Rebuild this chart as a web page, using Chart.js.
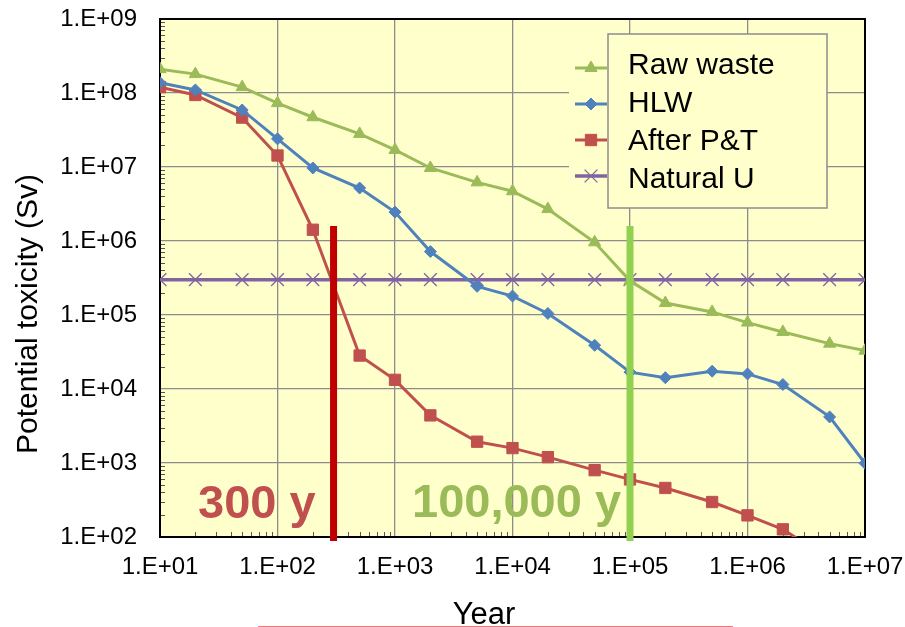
<!DOCTYPE html>
<html>
<head>
<meta charset="utf-8">
<title>Potential toxicity</title>
<script src="https://cdn.jsdelivr.net/npm/chart.js@4.4.0/dist/chart.umd.min.js"></script>
<style>
  html, body { margin: 0; padding: 0; background: #fff; }
  #wrap { width: 905px; height: 627px; }
</style>
</head>
<body>
<div id="wrap"><canvas id="toxChart" width="905" height="627"></canvas></div>
<script>
// time after discharge (years)
const years = [10, 20, 50, 100, 200, 500, 1e3, 2e3, 5e3, 1e4, 2e4, 5e4, 1e5, 2e5, 5e5, 1e6, 2e6, 5e6, 1e7];

// potential toxicity (Sv)
const rawWaste = [2.1e8, 1.8e8, 1.2e8, 7.3e7, 4.7e7, 2.8e7, 1.7e7, 9.7e6, 6.2e6, 4.7e6, 2.7e6, 9.6e5, 2.9e5, 1.45e5, 1.1e5, 7.9e4, 5.9e4, 4.1e4, 3.3e4];
const hlw = [1.38e8, 1.1e8, 5.9e7, 2.4e7, 9.7e6, 5.2e6, 2.46e6, 7.2e5, 2.44e5, 1.8e5, 1.05e5, 3.9e4, 1.69e4, 1.42e4, 1.74e4, 1.6e4, 1.15e4, 4.2e3, 9.9e2];
const afterPT = [1.2e8, 9.4e7, 4.65e7, 1.43e7, 1.42e6, 2.83e4, 1.33e4, 4.4e3, 1.94e3, 1.59e3, 1.2e3, 8.0e2, 6.0e2, 4.6e2, 2.97e2, 1.96e2, 1.27e2, 50, null];
const naturalU = [3e5, 3e5, 3e5, 3e5, 3e5, 3e5, 3e5, 3e5, 3e5, 3e5, 3e5, 3e5, 3e5, 3e5, 3e5, 3e5, 3e5, 3e5, 3e5];

// years needed to fall back to natural uranium level
const cutoffYears = [300, 1e5];
const cutoffLabels = ['300 y', '100,000 y'];
const cutoffSpan = [1.6e6, 88]; // top / bottom of the marker bars

const xTickValues = [1e1, 1e2, 1e3, 1e4, 1e5, 1e6, 1e7];
const xTickLabels = ['1.E+01', '1.E+02', '1.E+03', '1.E+04', '1.E+05', '1.E+06', '1.E+07'];
const yTickValues = [1e2, 1e3, 1e4, 1e5, 1e6, 1e7, 1e8, 1e9];
const yTickLabels = ['1.E+02', '1.E+03', '1.E+04', '1.E+05', '1.E+06', '1.E+07', '1.E+08', '1.E+09'];

const GREEN = '#9BBB59', BLUE = '#4F81BD', RED = '#C0504D', PURPLE = '#8064A2';

Chart.defaults.font.family = "'Liberation Sans', Arial, sans-serif";
Chart.defaults.color = '#000';

function pts(vals) {
  return years.map((x, i) => ({ x: x, y: vals[i] }));
}

function series(label, vals, color, style, radius, width) {
  return {
    label: label,
    data: pts(vals),
    borderColor: color,
    backgroundColor: color,
    borderWidth: width,
    pointStyle: style,
    pointRadius: radius,
    pointBackgroundColor: color,
    pointBorderColor: color,
    pointBorderWidth: style === 'crossRot' ? 1.3 : 1,
    tension: 0,
    spanGaps: false
  };
}

function cutoffBar(yr, color) {
  return {
    label: '_bar',
    data: [{ x: yr, y: cutoffSpan[0] }, { x: yr, y: cutoffSpan[1] }],
    borderColor: color,
    borderWidth: 7,
    pointRadius: 0,
    clip: false
  };
}

// plot background, frame, minor ticks, legend, titles, notes
const decor = {
  id: 'decor',
  beforeDraw(chart) {
    const a = chart.chartArea, ctx = chart.ctx;
    ctx.save();
    ctx.fillStyle = '#FFFFCC';
    ctx.fillRect(a.left, a.top, a.right - a.left, a.bottom - a.top);
    ctx.restore();
  },
  beforeDatasetsDraw(chart) {
    const a = chart.chartArea, ctx = chart.ctx;
    const xs = chart.scales.x, ys = chart.scales.y;
    ctx.save();
    ctx.strokeStyle = '#555';
    ctx.lineWidth = 1;
    ctx.beginPath();
    for (let e = 2; e < 9; e++) {
      for (let k = 2; k <= 9; k++) {
        const py = Math.round(ys.getPixelForValue(k * Math.pow(10, e))) + 0.5;
        ctx.moveTo(a.left, py); ctx.lineTo(a.left + 5, py);
      }
    }
    for (let e = 1; e < 7; e++) {
      for (let k = 2; k <= 9; k++) {
        const px = Math.round(xs.getPixelForValue(k * Math.pow(10, e))) + 0.5;
        ctx.moveTo(px, a.bottom); ctx.lineTo(px, a.bottom - 5);
      }
    }
    ctx.stroke();
    ctx.strokeStyle = '#000';
    ctx.lineWidth = 2;
    ctx.strokeRect(a.left, a.top, a.right - a.left, a.bottom - a.top);
    ctx.restore();
  },
  afterDraw(chart) {
    const ctx = chart.ctx;
    ctx.save();

    // legend
    ctx.fillStyle = '#FFFFCC';
    ctx.fillRect(569, 34, 258, 174);
    ctx.strokeStyle = '#8c8c8c';
    ctx.lineWidth = 1.5;
    ctx.strokeRect(608, 34, 219, 174);
    const sets = chart.data.datasets.filter(d => d.label !== '_bar');
    sets.forEach((d, i) => {
      const sy = 68 + i * 36;
      ctx.strokeStyle = d.borderColor;
      ctx.lineWidth = d.borderWidth;
      ctx.beginPath();
      ctx.moveTo(575, sy); ctx.lineTo(607, sy);
      ctx.stroke();
      ctx.fillStyle = d.pointBackgroundColor;
      ctx.strokeStyle = d.pointBorderColor;
      ctx.lineWidth = d.pointBorderWidth;
      Chart.helpers.drawPoint(ctx, { pointStyle: d.pointStyle, radius: d.pointRadius, rotation: 0, borderWidth: d.pointBorderWidth }, 591, sy);
      ctx.fillStyle = '#000';
      ctx.font = "30px 'Liberation Sans', Arial, sans-serif";
      ctx.textAlign = 'left';
      ctx.textBaseline = 'alphabetic';
      ctx.fillText(d.label, 628, 74 + i * 38);
    });

    // axis titles
    ctx.fillStyle = '#000';
    ctx.font = "30px 'Liberation Sans', Arial, sans-serif";
    ctx.textAlign = 'center';
    ctx.textBaseline = 'middle';
    ctx.save();
    ctx.translate(29, 314);
    ctx.rotate(-Math.PI / 2);
    ctx.fillText('Potential toxicity (Sv)', 0, 0);
    ctx.restore();
    ctx.font = "31px 'Liberation Sans', Arial, sans-serif";
    ctx.textBaseline = 'alphabetic';
    ctx.fillText('Year', 484, 624);

    ctx.strokeStyle = '#E87D7D';
    ctx.lineWidth = 1;
    ctx.beginPath();
    ctx.moveTo(258, 626.5); ctx.lineTo(733, 626.5);
    ctx.stroke();
    ctx.restore();
  },
  afterDatasetsDraw(chart) {
    const ctx = chart.ctx;
    ctx.save();
    ctx.font = "bold 47px 'Liberation Sans', Arial, sans-serif";
    ctx.textAlign = 'left';
    ctx.textBaseline = 'alphabetic';
    ctx.fillStyle = RED;
    ctx.fillText(cutoffLabels[0], 198, 518);
    ctx.fillStyle = GREEN;
    ctx.fillText(cutoffLabels[1], 412, 517);
    ctx.restore();
  }
};

new Chart(document.getElementById('toxChart'), {
  type: 'line',
  data: {
    datasets: [
      cutoffBar(cutoffYears[0], '#C00000'),
      cutoffBar(cutoffYears[1], '#92D050'),
      series('Raw waste', rawWaste, GREEN, 'triangle', 7, 3),
      series('HLW', hlw, BLUE, 'rectRot', 6, 3),
      series('After P&T', afterPT, RED, 'rect', 8, 3),
      series('Natural U', naturalU, PURPLE, 'crossRot', 9, 3.5)
    ]
  },
  options: {
    responsive: false,
    animation: false,
    layout: { padding: { left: 0, right: 40, top: 19, bottom: 0 } },
    plugins: {
      legend: { display: false },
      tooltip: { enabled: false }
    },
    scales: {
      x: {
        type: 'logarithmic',
        min: 10,
        max: 1e7,
        afterFit(scale) {
          scale.height = 90;
          scale.paddingLeft = 0;
          scale.paddingRight = 0;
        },
        afterBuildTicks(scale) { scale.ticks = xTickValues.map(v => ({ value: v })); },
        grid: { color: '#8c8c8c', lineWidth: 1.3, drawTicks: false },
        border: { display: false },
        ticks: {
          autoSkip: false,
          maxRotation: 0,
          padding: 16,
          font: { size: 24 },
          callback(v, i) { return xTickLabels[i]; }
        }
      },
      y: {
        type: 'logarithmic',
        min: 100,
        max: 1e9,
        afterFit(scale) {
          scale.width = 160;
          scale.paddingTop = 0;
          scale.paddingBottom = 0;
        },
        afterBuildTicks(scale) { scale.ticks = yTickValues.map(v => ({ value: v })); },
        grid: { color: '#8c8c8c', lineWidth: 1.3, drawTicks: false },
        border: { display: false },
        ticks: {
          autoSkip: false,
          padding: 23,
          font: { size: 24 },
          callback(v, i) { return yTickLabels[i]; }
        }
      }
    }
  },
  plugins: [decor]
});
</script>
</body>
</html>
